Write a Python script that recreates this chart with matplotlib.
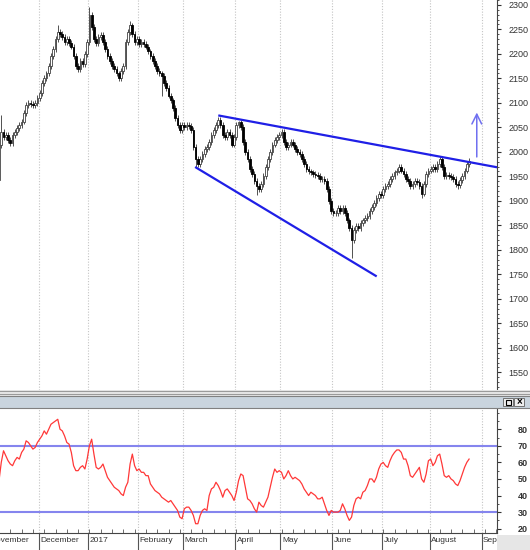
import numpy as np
import pandas as pd
import matplotlib
matplotlib.use('Agg')
import matplotlib.pyplot as plt
from matplotlib.patches import Rectangle
import matplotlib.transforms as mtrans

plt.rcParams['font.family'] = ['Liberation Sans', 'DejaVu Sans']

# trading days shown (index 0 = 2016-11-07)
dates = pd.bdate_range('2016-11-07', '2017-08-24')
axis_days = pd.bdate_range('2016-11-01', '2017-09-29')

first_open = 1943
closes = [
    2014, 2040, 2030, 2035, 2025, 2018, 2035, 2040, 2048, 2055,
    2062, 2080, 2095, 2100, 2098, 2095, 2100, 2110, 2120, 2140,
    2150, 2160, 2175, 2195, 2210, 2230, 2245, 2240, 2235, 2225,
    2230, 2222, 2215, 2195, 2175, 2170, 2185, 2180, 2200, 2225,
    2280, 2255, 2230, 2222, 2235, 2238, 2225, 2210, 2195, 2185,
    2175, 2170, 2160, 2150, 2165, 2175, 2225, 2245, 2258, 2240,
    2225, 2230, 2220, 2225, 2220, 2215, 2205, 2195, 2185, 2175,
    2165, 2160, 2155, 2140, 2130, 2115, 2105, 2090, 2070, 2055,
    2045, 2055, 2050, 2055, 2052, 2045, 2010, 1985, 1975, 1985,
    1995, 2005, 2010, 2020, 2035, 2045, 2055, 2065, 2055, 2035,
    2030, 2040, 2035, 2015, 2030, 2055, 2060, 2050, 2020, 2000,
    1985, 1965, 1955, 1940, 1930, 1925, 1935, 1950, 1970, 1985,
    2000, 2015, 2025, 2030, 2035, 2040, 2020, 2010, 2015, 2020,
    2015, 2005, 2000, 1995, 1985, 1975, 1965, 1960, 1958, 1955,
    1952, 1950, 1945, 1945, 1940, 1925, 1900, 1880, 1875, 1875,
    1885, 1880, 1885, 1875, 1860, 1845, 1820, 1840, 1848, 1845,
    1855, 1860, 1865, 1870, 1880, 1888, 1895, 1905, 1915, 1912,
    1925, 1930, 1935, 1945, 1950, 1958, 1962, 1970, 1962, 1955,
    1945, 1940, 1930, 1935, 1940, 1938, 1930, 1915, 1935, 1955,
    1962, 1965, 1970, 1965, 1975, 1985, 1970, 1950, 1952, 1950,
    1948, 1945, 1935, 1932, 1942, 1950, 1962, 1975, 1982,
]
wick_high = {1: 2075, 26: 2258, 40: 2295, 58: 2268, 97: 2072, 106: 2064,
             125: 2046, 177: 1976, 195: 1992}
wick_low = {72: 2115, 87: 1968, 114: 1912, 156: 1783, 187: 1905, 203: 1925}

rsi = [
    49, 60, 67, 64, 61, 59, 58, 61, 63, 62,
    66, 68, 73, 72, 70, 68, 69, 72, 74, 76,
    79, 77, 80, 83, 84, 85, 86, 80, 79, 76,
    72, 71, 66, 58, 55, 55, 57, 58, 56, 62,
    70, 74, 65, 57, 56, 57, 59, 55, 51, 49,
    47, 45, 44, 43, 41, 40, 45, 48, 59, 65,
    58, 55, 56, 54, 54, 52, 52, 47, 45, 43,
    42, 41, 39, 38, 37, 36, 37, 35, 33, 31,
    27, 26, 32, 33, 33, 31, 28, 23, 23, 28,
    31, 32, 31, 40, 44, 45, 48, 46, 43, 39,
    43, 44, 42, 40, 37, 42, 49, 53, 52, 45,
    38, 37, 35, 32, 30, 36, 34, 33, 36, 39,
    45, 51, 56, 54, 55, 54, 50, 52, 55, 52,
    50, 51, 50, 49, 47, 44, 42, 40, 42, 41,
    40, 38, 38, 39, 35, 31, 28, 31, 30, 30,
    30, 31, 35, 32, 28, 25, 27, 34, 38, 39,
    38, 42, 43, 46, 50, 50, 48, 51, 56, 59,
    60, 58, 57, 61, 64, 66, 67.5, 67.5, 66, 62,
    62, 58, 52, 51, 53, 55, 57, 50, 48, 53,
    61, 62, 58, 60, 64, 65, 59, 52, 51, 52,
    50, 49, 47, 46, 49, 53, 57, 60, 62,
]

# wedge lines and target arrow (day index, price)
upper_x, upper_y = [97.5, 219.9], [2074, 1969]
lower_x, lower_y = [87.2, 166.7], [1968, 1747]
arrow_x, arrow_from, arrow_to = 211.4, 1984, 2086

month_names = ['November', 'December', '2017', 'February', 'March', 'April',
               'May', 'June', 'July', 'August', 'Sep']

W, H = 530, 550
fig = plt.figure(figsize=(W / 100, H / 100), dpi=100)
ax = fig.add_axes([0, 1 - 390 / H, 497 / W, 390 / H])
ax2 = fig.add_axes([0, 1 - 533 / H, 497 / W, 125 / H])

x = np.arange(len(closes))
c = np.array(closes, dtype=float)
o = np.r_[first_open, c[:-1]]
hi = np.maximum(o, c) + 6
lo = np.minimum(o, c) - 6
for k, v in wick_high.items():
    hi[k] = v
for k, v in wick_low.items():
    lo[k] = v
up = c >= o

offset = axis_days.get_loc(dates[0])
month_pos = []
for k in range(1, len(axis_days)):
    if axis_days[k].month != axis_days[k - 1].month:
        month_pos.append(k - offset - 0.5)
month_pos = [-offset - 0.5] + month_pos
mondays = [k - offset for k, d in enumerate(axis_days) if d.weekday() == 0]

xlim = (0.44, 220.35)
for a in (ax, ax2):
    for p in month_pos[1:]:
        a.axvline(p, color='#c4c4c4', lw=0.8, ls=(0, (1, 1.5)), zorder=0)
    a.spines['top'].set_visible(False)
    a.spines['left'].set_visible(False)
    a.spines['right'].set_color('#444444')
    a.yaxis.tick_right()

# candles
ax.vlines(x, lo, hi, color='#505050', lw=0.7, zorder=2)
ax.bar(x[up], (c - o)[up], bottom=o[up], width=0.75, color='white',
       edgecolor='#404040', linewidth=0.6, zorder=3)
ax.bar(x[~up], np.maximum((o - c)[~up], 1), bottom=c[~up], width=0.75,
       color='black', edgecolor='black', linewidth=0.6, zorder=3)

ax.plot(upper_x, upper_y, color='#1f1fe6', lw=1.6, zorder=4)
ax.plot(lower_x, lower_y, color='#1f1fe6', lw=1.6, zorder=4)
ax.annotate('', xy=(arrow_x, arrow_to), xytext=(arrow_x, arrow_from),
            arrowprops=dict(arrowstyle='->,head_length=0.7,head_width=0.35',
                            color='#6f6ff0', lw=1.1), zorder=5)

ax.set_ylim(1514, 2310)
ax.set_yticks(range(1550, 2301, 50))
ax.set_yticks(range(1520, 2311, 10), minor=True)
ax.tick_params(axis='y', which='major', labelsize=6.5, length=3, pad=5,
               colors='#333333')
ax.tick_params(axis='y', which='minor', length=1.5, color='#333333')
ax.spines['bottom'].set_visible(False)
ax.set_xticks([])

# RSI panel
ax2.plot(x, rsi, color='#ff3838', lw=0.9, zorder=3)
ax2.axhline(70, color='#8585ee', lw=1.5, zorder=2)
ax2.axhline(30, color='#8585ee', lw=1.5, zorder=2)
ax2.set_ylim(17.4, 92.8)
ax2.set_yticks(range(20, 81, 10))
ax2.set_yticks(range(20, 91, 5), minor=True)
ax2.tick_params(axis='y', which='major', labelsize=6.5, length=3, pad=12,
                colors='#333333')
ax2.tick_params(axis='y', which='minor', length=1.5, color='#333333')
for lab in ax2.get_yticklabels():
    lab.set_fontweight('bold')
ax2.spines['bottom'].set_color('#444444')
ax2.set_xticks(month_pos)
ax2.set_xticklabels([])
ax2.set_xticks(mondays, minor=True)
ax2.tick_params(axis='x', which='major', direction='out', length=13,
                color='#555555')
ax2.tick_params(axis='x', which='minor', direction='in', length=3,
                color='#555555')

# fix the x range after ticks are set (set_xticks widens it)
ax.set_xlim(*xlim)
ax2.set_xlim(*xlim)

tr = mtrans.blended_transform_factory(ax2.transData, ax2.transAxes)
for p, name in zip(month_pos, month_names):
    ax2.text(p + 0.7, -0.035, name, transform=tr, fontsize=6, va='top',
             ha='left', color='#333333', clip_on=False)

# panel separator and indicator title bar
def fy(ypx):
    return 1 - ypx / H

fig.patches.append(Rectangle((0, fy(396)), 1, 6 / H, transform=fig.transFigure,
                             facecolor='#e8e8e8', edgecolor='none'))
for yy, col in [(391, '#9a9a9a'), (394, '#9a9a9a')]:
    fig.add_artist(plt.Line2D([0, 1], [fy(yy), fy(yy)], color=col, lw=0.8))
fig.patches.append(Rectangle((0, fy(408)), 1, 12 / H, transform=fig.transFigure,
                             facecolor='#c9d4de', edgecolor='none'))
for yy in (396, 408):
    fig.add_artist(plt.Line2D([0, 1], [fy(yy), fy(yy)], color='#808080', lw=0.8))
fig.patches.append(Rectangle((503 / W, fy(406)), 10 / W, 8 / H,
                             transform=fig.transFigure, facecolor='#eeeeee',
                             edgecolor='#606060', lw=0.6))
fig.patches.append(Rectangle((505.5 / W, fy(404.5)), 5 / W, 5 / H,
                             transform=fig.transFigure, facecolor='none',
                             edgecolor='black', lw=0.8))
fig.patches.append(Rectangle((514 / W, fy(406)), 10 / W, 8 / H,
                             transform=fig.transFigure, facecolor='#eeeeee',
                             edgecolor='#606060', lw=0.6))
fig.text(519 / W, fy(402), '×', fontsize=7, ha='center', va='center',
         color='black', fontweight='bold')
fig.patches.append(Rectangle((497 / W, 0), 33 / W, 15 / H,
                             transform=fig.transFigure, facecolor='#e6e6e6',
                             edgecolor='none', zorder=-1))

fig.savefig('out.png', dpi=100)
